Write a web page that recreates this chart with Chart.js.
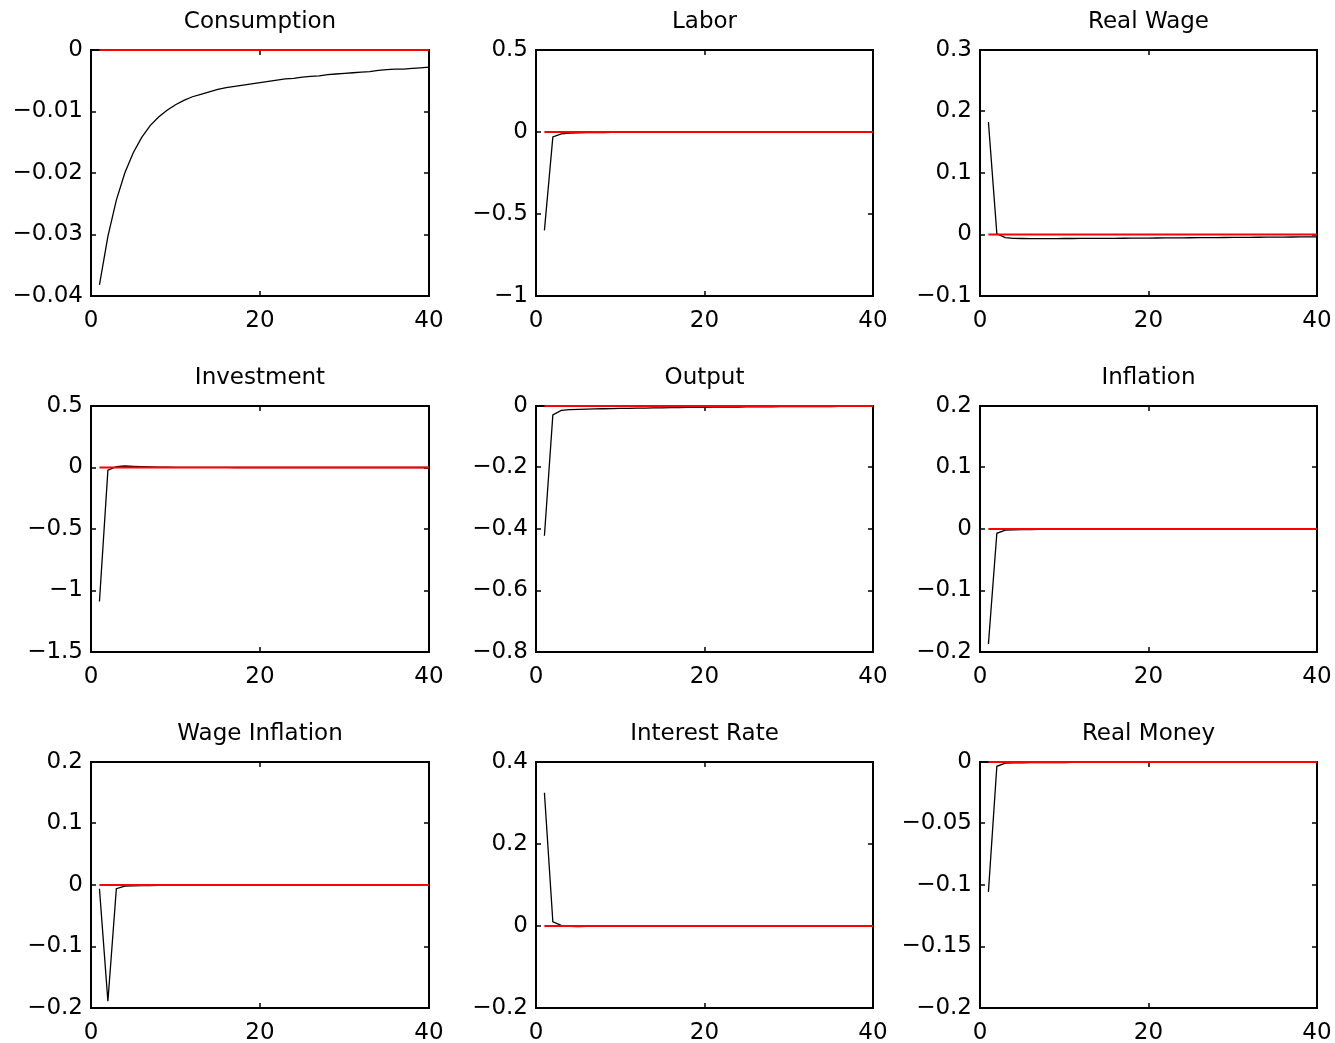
<!DOCTYPE html>
<html>
<head>
<meta charset="utf-8">
<script src="https://cdn.jsdelivr.net/npm/chart.js@4/dist/chart.umd.min.js"></script>
<style>
	body { margin: 0; background: #fff; }
	#wrap { position: relative; width: 1335px; height: 1043px; }
	#wrap canvas { position: absolute; }
</style>
</head>
<body>
<div id="wrap"></div>
<script>
// impulse responses, periods 1..40
const periods = [1, 2, 3, 4, 5, 6, 7, 8, 9, 10, 11, 12, 13, 14, 15, 16, 17, 18, 19, 20,
	21, 22, 23, 24, 25, 26, 27, 28, 29, 30, 31, 32, 33, 34, 35, 36, 37, 38, 39, 40];

const steadyState = [0, 0, 0, 0, 0, 0, 0, 0, 0, 0, 0, 0, 0, 0, 0, 0, 0, 0, 0, 0,
	0, 0, 0, 0, 0, 0, 0, 0, 0, 0, 0, 0, 0, 0, 0, 0, 0, 0, 0, 0];

const consumption = [-0.0382, -0.0303, -0.0244, -0.0200, -0.0167, -0.0142, -0.0123, -0.0109, -0.0098, -0.0089,
	-0.0082, -0.0076, -0.0072, -0.0068, -0.0064, -0.0061, -0.0059, -0.0057, -0.0055, -0.0053,
	-0.0051, -0.0049, -0.0047, -0.0046, -0.0044, -0.0043, -0.0042, -0.0040, -0.0039, -0.0038,
	-0.0037, -0.0036, -0.0035, -0.0033, -0.0032, -0.0031, -0.0031, -0.0030, -0.0029, -0.0028];

const labor = [-0.600, -0.030, -0.011, -0.007, -0.005, -0.004, -0.0035, -0.003, -0.0027, -0.0024,
	-0.0022, -0.002, -0.0018, -0.0017, -0.0016, -0.0015, -0.0014, -0.0013, -0.0012, -0.0012,
	-0.0011, -0.0011, -0.001, -0.001, -0.0009, -0.0009, -0.0008, -0.0008, -0.0008, -0.0007,
	-0.0007, -0.0007, -0.0006, -0.0006, -0.0006, -0.0005, -0.0005, -0.0005, -0.0005, -0.0004];

const realWage = [0.183, 0.001, -0.005, -0.0062, -0.0065, -0.0066, -0.0066, -0.0066, -0.0066, -0.0065,
	-0.0065, -0.0064, -0.0064, -0.0063, -0.0062, -0.0062, -0.0061, -0.006, -0.0059, -0.0058,
	-0.0057, -0.0056, -0.0055, -0.0054, -0.0053, -0.0052, -0.0051, -0.005, -0.0049, -0.0048,
	-0.0047, -0.0046, -0.0045, -0.0044, -0.0043, -0.0042, -0.0041, -0.004, -0.0039, -0.0038];

const investment = [-1.090, -0.022, 0.006, 0.012, 0.009, 0.006, 0.004, 0.003, 0.0022, 0.0016,
	0.0012, 0.0009, 0.0007, 0.0005, 0.0004, 0.0003, 0.0002, 0.0002, 0.0001, 0.0001,
	0.0001, 0.0001, 0, 0, 0, 0, 0, 0, 0, 0,
	0, 0, 0, 0, 0, 0, 0, 0, 0, 0];

const output = [-0.422, -0.029, -0.014, -0.012, -0.011, -0.010, -0.0095, -0.009, -0.0085, -0.008,
	-0.0075, -0.007, -0.0066, -0.0062, -0.0058, -0.0054, -0.005, -0.0047, -0.0044, -0.0041,
	-0.0038, -0.0036, -0.0034, -0.0032, -0.003, -0.0028, -0.0026, -0.0024, -0.0022, -0.0021,
	-0.002, -0.0019, -0.0018, -0.0017, -0.0016, -0.0015, -0.0014, -0.0013, -0.0012, -0.0011];

const inflation = [-0.187, -0.007, -0.0018, -0.0012, -0.001, -0.0008, -0.0006, -0.0005, -0.0004, -0.0004,
	-0.0003, -0.0003, -0.0003, -0.0002, -0.0002, -0.0002, -0.0002, -0.0002, -0.0001, -0.0001,
	-0.0001, -0.0001, -0.0001, -0.0001, -0.0001, -0.0001, -0.0001, -0.0001, -0.0001, -0.0001,
	0, 0, 0, 0, 0, 0, 0, 0, 0, 0];

const wageInflation = [-0.006, -0.189, -0.006, -0.0018, -0.0012, -0.001, -0.0008, -0.0006, -0.0005, -0.0004,
	-0.0004, -0.0003, -0.0003, -0.0003, -0.0002, -0.0002, -0.0002, -0.0002, -0.0002, -0.0001,
	-0.0001, -0.0001, -0.0001, -0.0001, -0.0001, -0.0001, -0.0001, -0.0001, -0.0001, -0.0001,
	0, 0, 0, 0, 0, 0, 0, 0, 0, 0];

const interestRate = [0.325, 0.010, 0.0015, -0.001, -0.0012, -0.001, -0.0008, -0.0006, -0.0005, -0.0004,
	-0.0004, -0.0003, -0.0003, -0.0003, -0.0002, -0.0002, -0.0002, -0.0002, -0.0001, -0.0001,
	-0.0001, -0.0001, -0.0001, -0.0001, -0.0001, -0.0001, -0.0001, -0.0001, -0.0001, -0.0001,
	0, 0, 0, 0, 0, 0, 0, 0, 0, 0];

const realMoney = [-0.1056, -0.0035, -0.0009, -0.0007, -0.0006, -0.0005, -0.0005, -0.0004, -0.0004, -0.0004,
	-0.0003, -0.0003, -0.0003, -0.0003, -0.0003, -0.0003, -0.0003, -0.0003, -0.0003, -0.0003,
	-0.0002, -0.0002, -0.0002, -0.0002, -0.0002, -0.0002, -0.0002, -0.0002, -0.0002, -0.0002,
	-0.0001, -0.0001, -0.0001, -0.0001, -0.0001, -0.0001, -0.0001, -0.0001, -0.0001, -0.0001];

const titles = ["Consumption", "Labor", "Real Wage", "Investment", "Output", "Inflation",
	"Wage Inflation", "Interest Rate", "Real Money"];
const series = [consumption, labor, realWage, investment, output, inflation,
	wageInflation, interestRate, realMoney];

// y tick labels per panel (first = min, last = max)
const yTicks = [
	[-0.04, -0.03, -0.02, -0.01, 0],
	[-1, -0.5, 0, 0.5],
	[-0.1, 0, 0.1, 0.2, 0.3],
	[-1.5, -1, -0.5, 0, 0.5],
	[-0.8, -0.6, -0.4, -0.2, 0],
	[-0.2, -0.1, 0, 0.1, 0.2],
	[-0.2, -0.1, 0, 0.1, 0.2],
	[-0.2, 0, 0.2, 0.4],
	[-0.2, -0.15, -0.1, -0.05, 0]
];
const xTicks = [0, 20, 40];

var font = { family: "'DejaVu Sans', sans-serif", size: 23 };
var colLeft = [0, 445, 889];
var colWidth = [447, 446, 446];
var rowTop = [0, 356, 712];

// matlab style box with inward ticks on all four sides
var boxPlugin = {
	id: 'box',
	beforeDatasetsDraw(chart) {
		var ctx = chart.ctx;
		var a = chart.chartArea;
		var xs = chart.scales.x, ys = chart.scales.y;
		var len = 5;
		var l = Math.round(a.left), r = Math.round(a.right);
		var t = Math.round(a.top), b = Math.round(a.bottom);
		ctx.save();
		ctx.strokeStyle = '#000';
		ctx.lineWidth = 2;
		ctx.strokeRect(l, t, r - l, b - t);
		ctx.lineWidth = 1.5;
		ctx.beginPath();
		ys.ticks.forEach(tk => {
			var y = Math.round(ys.getPixelForValue(tk.value));
			ctx.moveTo(l, y); ctx.lineTo(l + len, y);
			ctx.moveTo(r, y); ctx.lineTo(r - len, y);
		});
		xs.ticks.forEach(tk => {
			var x = Math.round(xs.getPixelForValue(tk.value));
			ctx.moveTo(x, b); ctx.lineTo(x, b - len);
			ctx.moveTo(x, t); ctx.lineTo(x, t + len);
		});
		ctx.stroke();
		ctx.restore();
	}
};

function fmt(v) {
	return String(Number(v.toFixed(4))).replace('-', '\u2212');
}

function drawPanel(i) {
	var wrap = document.getElementById('wrap');
	var canvas = document.createElement('canvas');
	var col = i % 3, row = Math.floor(i / 3);
	canvas.width = colWidth[col];
	canvas.height = 331;
	canvas.style.left = colLeft[col] + 'px';
	canvas.style.top = rowTop[row] + 'px';
	wrap.appendChild(canvas);

	var ticks = yTicks[i];

	new Chart(canvas.getContext('2d'), {
		type: 'line',
		data: {
			labels: periods,
			datasets: [{
				// zero line, lowest order so it sits on top of the response
				data: periods.map((p, k) => ({ x: p, y: steadyState[k] })),
				borderColor: '#ff0000',
				borderWidth: 2,
				pointRadius: 0,
				order: 0,
				clip: 3
			}, {
				data: periods.map((p, k) => ({ x: p, y: series[i][k] })),
				borderColor: '#000',
				borderWidth: 1.3,
				pointRadius: 0,
				tension: 0,
				order: 1,
				clip: 3
			}]
		},
		options: {
			responsive: false,
			animation: false,
			devicePixelRatio: 1,
			layout: { padding: { left: 0, right: 18, top: 0, bottom: 0 } },
			plugins: {
				legend: { display: false },
				tooltip: { enabled: false },
				title: {
					display: true,
					text: titles[i],
					fullSize: false,
					color: '#000',
					font: { family: font.family, size: font.size, weight: 'normal' },
					padding: { top: 8, bottom: 14.4 }
				}
			},
			scales: {
				x: {
					type: 'linear',
					min: 0,
					max: 40,
					grid: { display: false, drawTicks: false },
					border: { display: false },
					afterBuildTicks: s => { s.ticks = xTicks.map(v => ({ value: v })); },
					afterFit: s => { s.height = 35; s.paddingLeft = 0; s.paddingRight = 0; },
					ticks: {
						color: '#000',
						font: font,
						padding: 11,
						maxRotation: 0,
						callback: v => fmt(v)
					}
				},
				y: {
					min: ticks[0],
					max: ticks[ticks.length - 1],
					grid: { display: false, drawTicks: false },
					border: { display: false },
					afterBuildTicks: s => { s.ticks = ticks.map(v => ({ value: v })); },
					afterFit: s => { s.width = 91; s.paddingTop = 0; s.paddingBottom = 0; },
					ticks: {
						color: '#000',
						font: font,
						padding: 8,
						callback: v => fmt(v)
					}
				}
			}
		},
		plugins: [boxPlugin]
	});
}

for (var i = 0; i < 9; i++) {
	drawPanel(i);
}
</script>
</body>
</html>
